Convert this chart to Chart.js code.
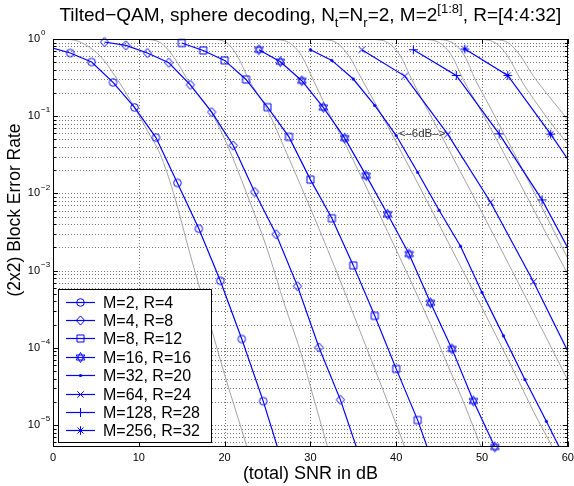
<!DOCTYPE html>
<html>
<head>
<meta charset="utf-8">
<script src="https://cdn.jsdelivr.net/npm/chart.js@4.4.1/dist/chart.umd.min.js"></script>
<style>
  html, body { margin: 0; padding: 0; background: #fff; }
</style>
</head>
<body>
<canvas id="chart" width="574" height="486"></canvas>
<script>
// ---- data ----
const seriesLabels = ['M=2, R=4', 'M=4, R=8', 'M=8, R=12', 'M=16, R=16',
                      'M=32, R=20', 'M=64, R=24', 'M=128, R=28', 'M=256, R=32'];

const snrM2 = [-0.5, 2, 4.5, 7, 9.5, 12, 14.5, 17, 19.5, 22, 24.5, 27];
const blerM2 = [0.79, 0.658, 0.503, 0.274, 0.130, 0.0529, 0.01368, 3.49e-3, 7.39e-4, 1.30e-4, 2.04e-5, 2.6e-6];
const snrM4 = [6, 8.5, 11, 13.5, 16, 18.5, 21, 23.5, 26, 28.5, 31, 33.5, 36];
const blerM4 = [0.914, 0.826, 0.658, 0.493, 0.255, 0.113, 0.0417, 0.01045, 2.96e-3, 6.3e-4, 1.01e-4, 2.12e-5, 3.2e-6];
const snrM8 = [15, 17.5, 20, 22.5, 25, 27.5, 30, 32.5, 35, 37.5, 40, 42.5, 45];
const blerM8 = [0.887, 0.711, 0.528, 0.299, 0.131, 0.054, 0.0151, 4.77e-3, 1.17e-3, 2.6e-4, 5.34e-5, 1.16e-5, 1.9e-6];
const snrM16 = [24, 26.5, 29, 31.5, 34, 36.5, 39, 41.5, 44, 46.5, 49, 51.5];
const blerM16 = [0.726, 0.508, 0.288, 0.130, 0.052, 0.017, 5.37e-3, 1.64e-3, 3.83e-4, 9.7e-5, 2.05e-5, 5.2e-6];
const snrM32 = [30, 32.5, 35, 37.5, 40, 42.5, 45, 47.5, 50, 52.5, 55, 57.5, 60];
const blerM32 = [0.726, 0.528, 0.303, 0.138, 0.0562, 0.0188, 6.05e-3, 2.07e-3, 5.23e-4, 1.43e-4, 3.89e-5, 1.12e-5, 3.1e-6];
const snrM64 = [36, 41, 46, 51, 56, 61];
const blerM64 = [0.726, 0.331, 0.0586, 7.69e-3, 7.18e-4, 5.4e-5];
const snrM128 = [42, 47, 52, 57, 62];
const blerM128 = [0.726, 0.337, 0.0591, 8.24e-3, 7.64e-4];
const snrM256 = [48, 53, 58, 63];
const blerM256 = [0.742, 0.337, 0.0586, 9.06e-3];

// gray reference curves
const refSnrA = [1.5, 3, 5.5, 7.5, 9.5, 11, 12.5, 14, 16, 18, 20, 22.6, 25];
const refBlerA = [1.0, 0.93, 0.6, 0.3, 0.13, 0.065, 0.032, 0.0105, 1.6e-3, 2.7e-4, 4.5e-5, 5.2e-6, 6e-7];
const refSnrB = [10.5, 12.5, 14, 16, 18.5, 20.5, 22.5, 25, 27, 28.8, 30.5, 32, 34];
const refBlerB = [1.0, 0.9, 0.6, 0.26, 0.11, 0.038, 0.0105, 1.85e-3, 3.6e-4, 9.3e-5, 2.0e-5, 5.2e-6, 9e-7];
const refSnrC = [18, 20, 21.5, 22.8, 25, 27, 29, 31, 33, 35, 37, 39, 41, 43];
const refBlerC = [1.0, 0.93, 0.6, 0.3, 0.12, 0.038, 0.0117, 3.5e-3, 1e-3, 2.75e-4, 7.4e-5, 2e-5, 5.2e-6, 1.3e-6];
const refSnrD = [25.5, 27.5, 29, 30.3, 32, 34, 36, 38, 40, 42, 44, 46, 48, 49.9, 52];
const refBlerD = [1.0, 0.9, 0.6, 0.3, 0.12, 0.045, 0.0158, 5.5e-3, 1.86e-3, 6.2e-4, 2e-4, 6e-5, 1.8e-5, 5.2e-6, 1.4e-6];
const refSnrE = [31, 33, 34.5, 36, 38, 40, 42, 44, 46, 48, 50, 52, 54, 56, 58.2, 60];
const refBlerE = [1.0, 0.9, 0.6, 0.3, 0.12, 0.046, 0.0174, 6.5e-3, 2.4e-3, 8.9e-4, 3.3e-4, 1.2e-4, 4.3e-5, 1.5e-5, 5.2e-6, 2.1e-6];
const refSnrF = [37, 39, 40.5, 41.8, 43.5, 45.5, 47.5, 49.5, 51.5, 53.5, 55.5, 57.5, 59.5, 61.5];
const refBlerF = [1.0, 0.9, 0.6, 0.3, 0.13, 0.05, 0.019, 7.2e-3, 2.7e-3, 1e-3, 3.7e-4, 1.35e-4, 4.9e-5, 1.8e-5];
const refSnrG = [43, 45, 46.5, 47.8, 49.5, 51.5, 53.5, 55.5, 57.5, 59.5, 61.5];
const refBlerG = [1.0, 0.9, 0.6, 0.3, 0.14, 0.055, 0.021, 8e-3, 3e-3, 1.15e-3, 4.3e-4];
const refSnrG2 = [44.5, 46.5, 48, 49.2, 50.8, 52.6, 54.5, 56.4, 58.3, 60.2, 62];
const refBlerG2 = [1.0, 0.9, 0.6, 0.3, 0.14, 0.058, 0.023, 8.8e-3, 3.4e-3, 1.3e-3, 5e-4];
const refSnrH = [49.5, 51.5, 53, 54.5, 56.5, 58.5, 60.5, 62.5];
const refBlerH = [1.0, 0.9, 0.6, 0.3, 0.14, 0.07, 0.037, 0.018];
const refSnrH2 = [51, 53, 54.5, 56, 58, 60, 62];
const refBlerH2 = [1.0, 0.9, 0.6, 0.33, 0.17, 0.09, 0.045];

const xTicks = [0, 10, 20, 30, 40, 50, 60];
const yTickExps = [0, -1, -2, -3, -4, -5];

const titleParts = [
  { t: 'Tilted\u2212QAM, sphere decoding, N' }, { t: 't', sub: true }, { t: '=N' },
  { t: 'r', sub: true }, { t: '=2, M=2' }, { t: '[1:8]', sup: true }, { t: ', R=[4:4:32]' }
];
const xTitle = '(total) SNR in dB';
const yTitle = '(2x2) Block Error Rate';
const noteText = '<\u20136dB\u2013>';

// ---- markers (MATLAB style, unfilled) ----
const BLUE = '#0000ff';
const FONT = '"Liberation Sans", Arial, Helvetica, sans-serif';

function makeMarker(kind) {
  const c = document.createElement('canvas');
  c.width = 15; c.height = 15;
  const g = c.getContext('2d');
  const m = 7.5;
  g.strokeStyle = BLUE; g.fillStyle = BLUE; g.lineWidth = 1;
  g.beginPath();
  if (kind === 'o') {
    g.arc(m, m, 3.8, 0, Math.PI * 2);
  } else if (kind === 'd') {
    g.moveTo(m, m - 4.6); g.lineTo(m + 4.2, m); g.lineTo(m, m + 4.6); g.lineTo(m - 4.2, m); g.closePath();
  } else if (kind === 's') {
    g.rect(m - 3.5, m - 3.5, 7, 7);
  } else if (kind === 'h') {
    // six-pointed star drawn as two triangles
    for (let t = 0; t < 2; t++) {
      for (let i = 0; i < 3; i++) {
        const a = -Math.PI / 2 + t * Math.PI + i * 2 * Math.PI / 3;
        const px = m + 5 * Math.cos(a), py = m + 5 * Math.sin(a);
        if (i === 0) g.moveTo(px, py); else g.lineTo(px, py);
      }
      g.closePath();
    }
  } else if (kind === '.') {
    g.arc(m, m, 1.6, 0, Math.PI * 2);
    g.fill();
    return c;
  } else if (kind === 'x') {
    g.moveTo(m - 3.2, m - 3.2); g.lineTo(m + 3.2, m + 3.2);
    g.moveTo(m + 3.2, m - 3.2); g.lineTo(m - 3.2, m + 3.2);
  } else if (kind === '+') {
    g.moveTo(m - 4.5, m); g.lineTo(m + 4.5, m);
    g.moveTo(m, m - 4.5); g.lineTo(m, m + 4.5);
  } else if (kind === '*') {
    g.moveTo(m - 4.3, m); g.lineTo(m + 4.3, m);
    g.moveTo(m, m - 4.3); g.lineTo(m, m + 4.3);
    g.moveTo(m - 3, m - 3); g.lineTo(m + 3, m + 3);
    g.moveTo(m + 3, m - 3); g.lineTo(m - 3, m + 3);
  }
  g.stroke();
  return c;
}

const markerKinds = ['o', 'd', 's', 'h', '.', 'x', '+', '*'];
const markers = markerKinds.map(makeMarker);

const blueSnr = [snrM2, snrM4, snrM8, snrM16, snrM32, snrM64, snrM128, snrM256];
const blueBler = [blerM2, blerM4, blerM8, blerM16, blerM32, blerM64, blerM128, blerM256];
const graySnr = [refSnrA, refSnrB, refSnrC, refSnrD, refSnrE, refSnrF, refSnrG, refSnrG2, refSnrH, refSnrH2];
const grayBler = [refBlerA, refBlerB, refBlerC, refBlerD, refBlerE, refBlerF, refBlerG, refBlerG2, refBlerH, refBlerH2];

const zip = (xs, ys) => xs.map((v, i) => ({ x: v, y: ys[i] }));

const datasets = [];
blueSnr.forEach((xs, i) => {
  datasets.push({
    label: seriesLabels[i],
    data: zip(xs, blueBler[i]),
    borderColor: BLUE,
    borderWidth: 1.2,
    pointStyle: markers[i],
    pointRadius: 5,
    tension: 0,
    order: 1,
    clip: { left: 0, right: 0, top: 8, bottom: i === 3 ? 8 : 0 }
  });
});
graySnr.forEach((xs, i) => {
  datasets.push({
    label: '',
    data: zip(xs, grayBler[i]),
    borderColor: '#a3a3a3',
    borderWidth: 1,
    pointRadius: 0,
    cubicInterpolationMode: 'monotone',
    order: 2,
    clip: 0
  });
});

// ---- decorations: grid, frame, ticks, labels, legend, title ----
const deco = {
  id: 'deco',
  beforeDatasetsDraw(chart) {
    const { ctx, chartArea: a, scales: { x, y } } = chart;
    ctx.save();
    ctx.strokeStyle = 'rgba(0,0,0,0.55)';
    ctx.lineWidth = 1;
    ctx.setLineDash([1, 2]);
    xTicks.forEach(v => {
      const px = Math.round(x.getPixelForValue(v)) + 0.5;
      ctx.beginPath(); ctx.moveTo(px, a.top); ctx.lineTo(px, a.bottom); ctx.stroke();
    });
    for (let e = -6; e <= 0; e++) {
      for (let k = 1; k <= 9; k++) {
        const v = k * Math.pow(10, e);
        if (v < y.min * 1.0001 || v > y.max * 0.9999) continue;
        const py = Math.round(y.getPixelForValue(v)) + 0.5;
        ctx.beginPath(); ctx.moveTo(a.left, py); ctx.lineTo(a.right, py); ctx.stroke();
      }
    }
    ctx.restore();
  },
  afterDatasetsDraw(chart) {
    const { ctx, chartArea: a, scales: { x, y } } = chart;
    ctx.save();
    // frame
    ctx.strokeStyle = '#000'; ctx.lineWidth = 1;
    ctx.strokeRect(Math.round(a.left) + 0.5, Math.round(a.top) + 0.5,
                   Math.round(a.right - a.left) - 1, Math.round(a.bottom - a.top) - 1);
    // ticks
    ctx.beginPath();
    xTicks.forEach(v => {
      const px = Math.round(x.getPixelForValue(v)) + 0.5;
      ctx.moveTo(px, a.bottom); ctx.lineTo(px, a.bottom - 5);
      ctx.moveTo(px, a.top); ctx.lineTo(px, a.top + 5);
    });
    for (let e = -6; e <= 0; e++) {
      for (let k = 1; k <= 9; k++) {
        const v = k * Math.pow(10, e);
        if (v < y.min * 1.0001 || v > y.max * 0.9999) continue;
        const py = Math.round(y.getPixelForValue(v)) + 0.5;
        const len = k === 1 ? 5 : 3;
        ctx.moveTo(a.left, py); ctx.lineTo(a.left + len, py);
        ctx.moveTo(a.right, py); ctx.lineTo(a.right - len, py);
      }
    }
    ctx.stroke();

    // tick labels
    ctx.fillStyle = '#000';
    ctx.font = '11px ' + FONT;
    ctx.textAlign = 'center'; ctx.textBaseline = 'middle';
    xTicks.forEach(v => ctx.fillText(String(v), x.getPixelForValue(v), a.bottom + 11));
    yTickExps.forEach(ex => {
      const py = y.getPixelForValue(Math.pow(10, ex));
      ctx.font = '11px ' + FONT;
      ctx.textAlign = 'right'; ctx.textBaseline = 'middle';
      ctx.fillText('10', 40, py);
      ctx.font = '8px ' + FONT;
      ctx.textAlign = 'left';
      ctx.fillText(ex === 0 ? '0' : '\u2212' + (-ex), 41, py - 6);
    });

    // axis titles
    ctx.textAlign = 'center'; ctx.textBaseline = 'middle';
    ctx.font = '18px ' + FONT;
    ctx.fillText(xTitle, (a.left + a.right) / 2, 474);
    ctx.save();
    ctx.font = '17.5px ' + FONT;
    ctx.translate(15, 210);
    ctx.rotate(-Math.PI / 2);
    ctx.fillText(yTitle, 0, 0);
    ctx.restore();

    // annotation between M=32 and M=64 curves
    ctx.font = '11.5px ' + FONT;
    ctx.fillStyle = '#333';
    ctx.fillText(noteText, 422, 134);

    // legend
    const lx = 58, ly = 289, lw = 153, lh = 153;
    ctx.fillStyle = '#fff';
    ctx.fillRect(lx, ly, lw, lh);
    ctx.strokeStyle = '#000'; ctx.lineWidth = 1;
    ctx.strokeRect(lx + 0.5, ly + 0.5, lw, lh);
    ctx.font = '16px ' + FONT;
    ctx.textAlign = 'left'; ctx.textBaseline = 'middle';
    seriesLabels.forEach((lab, i) => {
      const cy = Math.round(ly + 12.5 + i * 18.4) + 0.5;
      ctx.strokeStyle = BLUE; ctx.lineWidth = 1.2;
      ctx.beginPath(); ctx.moveTo(66, cy); ctx.lineTo(95, cy); ctx.stroke();
      ctx.drawImage(markers[i], 80.5 - 7.5, cy - 7.5);
      ctx.fillStyle = '#000';
      ctx.fillText(lab, 103, cy + 1);
    });

    // title with sub/superscripts
    const big = '19px ' + FONT, small = '13px ' + FONT;
    let total = 0;
    titleParts.forEach(p => { ctx.font = (p.sub || p.sup) ? small : big; total += ctx.measureText(p.t).width; });
    let tx = (a.left + a.right) / 2 - total / 2;
    ctx.textAlign = 'left'; ctx.textBaseline = 'alphabetic';
    ctx.fillStyle = '#000';
    titleParts.forEach(p => {
      ctx.font = (p.sub || p.sup) ? small : big;
      const dy = p.sub ? 6 : (p.sup ? -8 : 0);
      ctx.fillText(p.t, tx, 21 + dy);
      tx += ctx.measureText(p.t).width;
    });
    ctx.restore();
  }
};

new Chart(document.getElementById('chart'), {
  type: 'line',
  data: { datasets },
  options: {
    responsive: false,
    animation: false,
    events: [],
    layout: { padding: { left: 0, right: 5, top: 39, bottom: 0 } },
    plugins: { legend: { display: false }, title: { display: false }, tooltip: { enabled: false } },
    scales: {
      x: {
        type: 'linear', min: 0, max: 60,
        ticks: { display: false, stepSize: 10 },
        grid: { display: false }, border: { display: false },
        afterFit: s => { s.height = 39; }
      },
      y: {
        type: 'logarithmic', min: 5.2e-6, max: 1,
        ticks: { display: false },
        grid: { display: false }, border: { display: false },
        afterFit: s => { s.width = 53; }
      }
    }
  },
  plugins: [deco]
});
</script>
</body>
</html>
